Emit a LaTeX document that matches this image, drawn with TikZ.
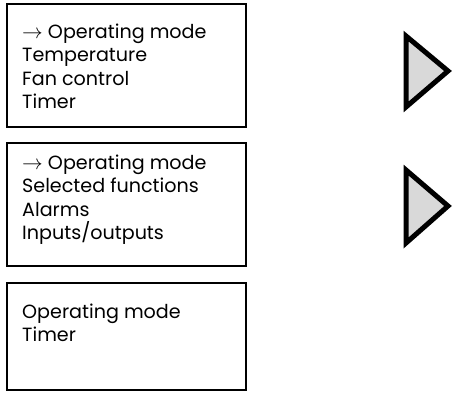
\documentclass[tikz,border=0pt]{standalone}
\usepackage{fontspec}
\setmainfont{Poppins}
\begin{document}
\begin{tikzpicture}[x=1bp,y=-1bp,
  panel/.style={draw=black,line width=2.2bp},
  paneltext/.style={anchor=north west,inner sep=0pt,align=left,font=\fontsize{19.2}{23.5}\selectfont},
  nav/.style={draw=black,fill=black!15,line width=5bp,line join=miter}]
\useasboundingbox (0,0) rectangle (452,392);
\draw[panel] (7,4) rectangle (246,127);
\draw[panel] (7,143) rectangle (246,266);
\draw[panel] (7,283) rectangle (246,390);
\node[paneltext] (t1) at (22,23.5) {$\rightarrow$ Operating mode\\Temperature\\Fan control\\Timer};
\node[paneltext] (t2) at (22,154.5) {$\rightarrow$ Operating mode\\Selected functions\\Alarms\\Inputs/outputs};
\node[paneltext] (t3) at (22,303.5) {Operating mode\\Timer};
\draw[nav] (406,36) -- (448,71) -- (406,107) -- cycle;
\draw[nav] (406,170) -- (448,206) -- (406,243) -- cycle;
\end{tikzpicture}
\end{document}
